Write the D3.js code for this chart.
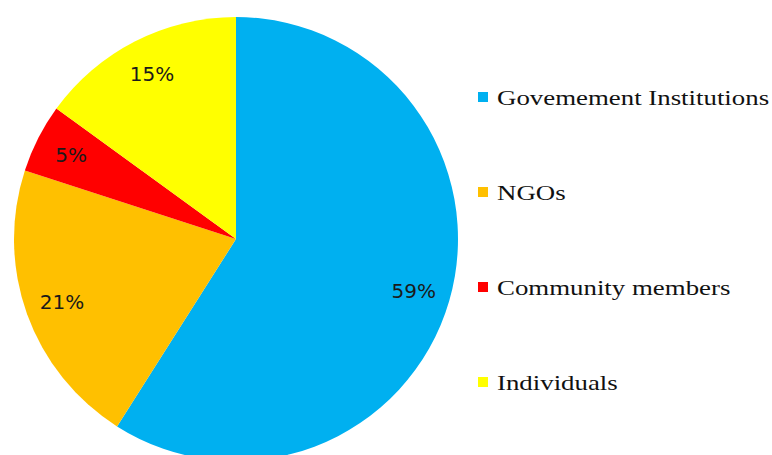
<!DOCTYPE html>
<html><head><meta charset="utf-8">
<script src="https://cdn.jsdelivr.net/npm/d3@7"></script>
<style>html,body{margin:0;padding:0;background:#fff;overflow:hidden}</style>
</head><body>
<svg id="chart" width="772" height="455"></svg>
<script>
const categories = ["Govemement Institutions", "NGOs", "Community members", "Individuals"];
const values = [59, 21, 5, 15];
const labels = ["59%", "21%", "5%", "15%"];
const colors = ["#00B0F0", "#FFC000", "#FF0000", "#FFFF00"];

const svg = d3.select("#chart");
const cx = 236, cy = 239, r = 222;
const g = svg.append("g").attr("transform", `translate(${cx},${cy})`);
const pie = d3.pie().sort(null).value(d => d)(values);
const arc = d3.arc().innerRadius(0).outerRadius(r);
const labelArc = d3.arc().innerRadius(185).outerRadius(185);
g.selectAll("path").data(pie).join("path")
  .attr("d", arc).attr("fill", (d, i) => colors[i]);
g.selectAll("text").data(pie).join("text")
  .attr("transform", d => `translate(${labelArc.centroid(d)})`)
  .attr("text-anchor", "middle").attr("dy", "0.36em")
  .style("font-family", "'DejaVu Sans', Verdana, sans-serif")
  .style("font-size", "20px").attr("fill", "#1a1a1a")
  .text((d, i) => labels[i]);

const leg = svg.append("g");
const ys = d3.scalePoint().domain(categories).range([97, 382]);
const item = leg.selectAll("g").data(categories).join("g")
  .attr("transform", d => `translate(478,${ys(d)})`);
item.append("rect").attr("x", 0).attr("y", -5).attr("width", 10).attr("height", 10)
  .attr("fill", (d, i) => colors[i]);
item.append("text").attr("x", 19).attr("dy", "0.35em")
  .style("font-family", "'Liberation Serif', 'Times New Roman', serif")
  .style("font-size", "22px").attr("fill", "#111")
  .text(d => d)
  .each(function () {
    const w = this.getComputedTextLength();
    d3.select(this).attr("textLength", w * 1.22).attr("lengthAdjust", "spacingAndGlyphs");
  });
</script>
</body></html>
